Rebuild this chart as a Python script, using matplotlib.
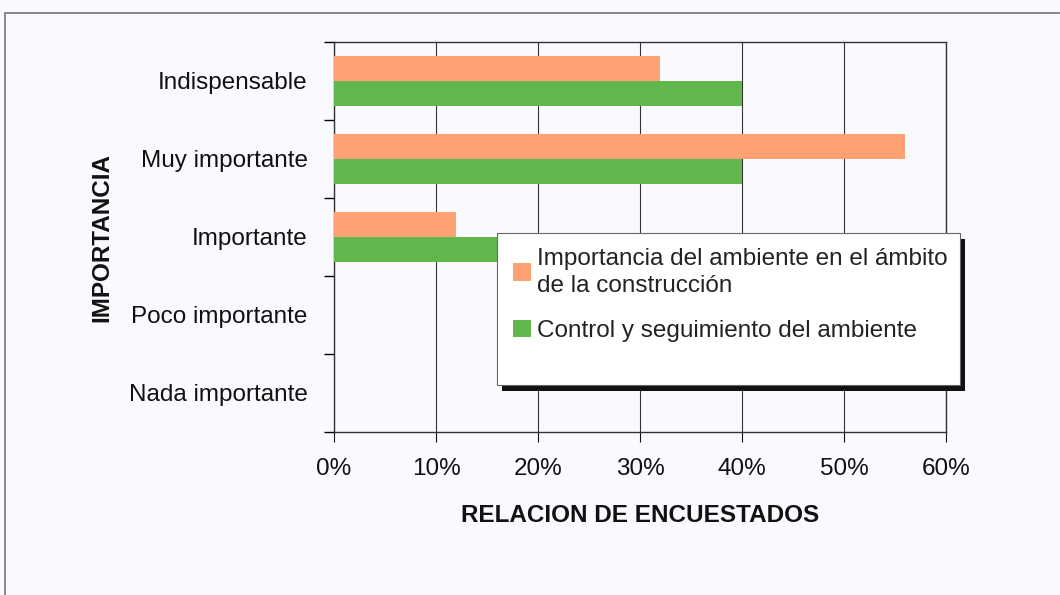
import matplotlib
matplotlib.use("Agg")
import matplotlib.pyplot as plt
import numpy as np
from matplotlib.ticker import FixedLocator, PercentFormatter
from matplotlib.patches import Rectangle

plt.rcParams['font.family'] = ['Liberation Sans', 'DejaVu Sans']

categories = ["Indispensable", "Muy importante", "Importante", "Poco importante", "Nada importante"]
importancia = [32, 56, 12, 0, 0]
control = [40, 40, 20, 0, 0]
series_names = ["Importancia del ambiente en el ámbito\nde la construcción",
                "Control y seguimiento del ambiente"]
xticks = [0, 10, 20, 30, 40, 50, 60]

orange = "#FFA273"
green = "#60B84D"
bg = "#F8FAFD"

fig = plt.figure(figsize=(10.6, 5.95), dpi=100, facecolor=bg)
# outer frame
frame = Rectangle((5/1060, -0.05), 1.1, 1 - 13/595 + 0.05, transform=fig.transFigure,
                  fill=False, edgecolor="#777777", linewidth=1.2)
fig.patches.append(frame)

ax = fig.add_axes([334/1060, 1 - 432/595, 612/1060, 390/595])
ax.set_facecolor(bg)

n = len(categories)
y = np.arange(n)
h = 0.32
ax.barh(y - h/2, importancia, height=h, color=orange, label=series_names[0], zorder=3)
ax.barh(y + h/2, control, height=h, color=green, label=series_names[1], zorder=3)

ax.set_ylim(n - 0.5, -0.5)
ax.set_xlim(0, 60)
ax.set_xticks(xticks)
ax.xaxis.set_major_formatter(PercentFormatter(decimals=0))
ax.set_yticks(y)
ax.set_yticklabels(categories)
ax.yaxis.set_minor_locator(FixedLocator(np.arange(-0.5, n, 1.0)))
ax.tick_params(axis='y', which='major', length=0, pad=19, labelsize=17.5, colors="#111111")
ax.tick_params(axis='y', which='minor', length=7, direction='out', width=1)
ax.tick_params(axis='x', which='major', length=7, direction='out', labelsize=17.5, pad=12, colors="#111111")
ax.grid(axis='x', color="#333333", linewidth=0.8, zorder=0)
for s in ax.spines.values():
    s.set_color("#333333")
    s.set_linewidth(1.0)

ax.set_xlabel("RELACION DE ENCUESTADOS", fontsize=17.5, fontweight='bold', color="#111111")
ax.xaxis.set_label_coords(0.5, -0.185)
ax.set_ylabel("IMPORTANCIA", fontsize=17.5, fontweight='bold', color="#111111")
ax.yaxis.set_label_coords(-0.36, 0.5)

# legend box with shadow
lx, ly, lw, lh = 0.266, 0.12, 0.757, 0.39
shadow = Rectangle((lx + 0.008, ly - 0.014), lw, lh, transform=ax.transAxes,
                   facecolor="#111111", edgecolor="none", zorder=6, clip_on=False)
box = Rectangle((lx, ly), lw, lh, transform=ax.transAxes,
                facecolor="white", edgecolor="#666666", linewidth=0.8, zorder=7, clip_on=False)
ax.add_patch(shadow)
ax.add_patch(box)

leg = ax.legend(loc='upper left', bbox_to_anchor=(lx + 0.01, ly + lh - 0.012),
                fontsize=17.5, frameon=False, borderpad=0.4,
                handlelength=0.75, handleheight=0.75, handletextpad=0.25,
                labelspacing=0.95, borderaxespad=0)
leg.set_zorder(8)
for t in leg.get_texts():
    t.set_linespacing(1.3)
    t.set_color("#222222")

fig.savefig("out.png", dpi=100, facecolor=bg)
